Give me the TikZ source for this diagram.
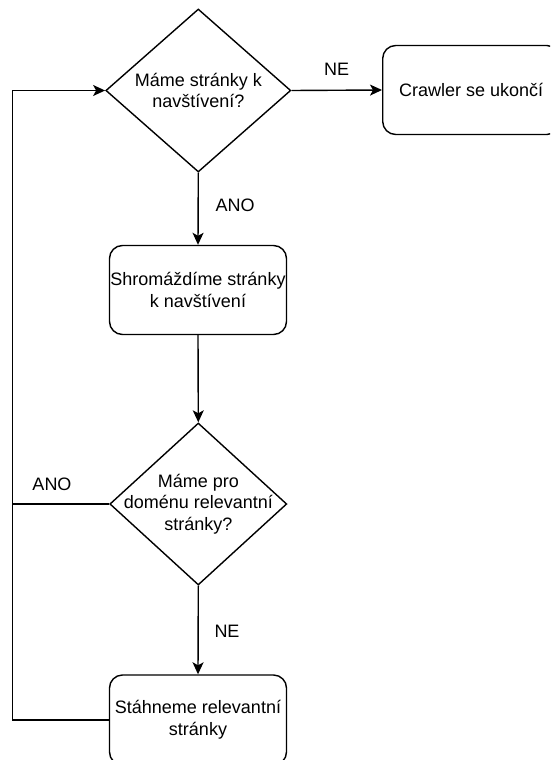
\documentclass[tikz,border=0pt]{standalone}
\usepackage{fontspec}
\setmainfont{Liberation Sans}
\usetikzlibrary{shapes.geometric,arrows.meta}

\begin{document}
\begin{tikzpicture}[x=1pt,y=-1pt,
  every node/.style={font=\fontsize{18}{21.6}\selectfont},
  flow/.style={line width=1.4pt, line join=miter},
  arr/.style={flow, -{Stealth[length=12pt,width=11pt,inset=3pt]}},
  procbox/.style={draw, line width=1.4pt, rounded corners=13pt,
    minimum width=177pt, minimum height=89pt, inner sep=0pt, align=center},
  decision/.style={draw, line width=1.4pt, diamond, inner sep=0pt},
  lbl/.style={inner sep=0pt}
]
\useasboundingbox (0,0) rectangle (550,760);
\clip (0,0) rectangle (550,760);

% decisions and steps
\node[decision, minimum width=185pt, minimum height=163pt,
  label={[align=center]center:Máme stránky k\\navštívení?}] (d1) at (198.3,90.5) {};
\node[procbox] (end) at (471.2,90) {Crawler se ukončí};
\node[procbox] (b2) at (198,290) {Shromáždíme stránky\\k navštívení};
\node[decision, minimum width=177pt, minimum height=162pt,
  label={[align=center]center:Máme pro\\doménu relevantní\\stránky?}] (d2) at (198.3,504) {};
\node[procbox, minimum height=90pt] (b3) at (198,720) {Stáhneme relevantní\\stránky};

% return path on the left
\coordinate (lt) at (12.7,90.5);

% connectors
\draw[arr] (d1.east) -- (end.west);
\draw[arr] (d1.south) -- (b2.north);
\draw[arr] (b2.south) -- (d2.north);
\draw[arr] (d2.south) -- (b3.north);
\draw[arr] (b3.west) -- (b3.west -| lt) -- (lt) -- (d1.west);
\draw[flow] (d2.west) -- (d2.west -| lt);

% edge labels
\node[lbl] (ne1) at (336.7,69) {NE};
\node[lbl] (ano1) at (235,205) {ANO};
\node[lbl] (ano2) at (52,484) {ANO};
\node[lbl] (ne2) at (227,631) {NE};
\end{tikzpicture}
\end{document}
